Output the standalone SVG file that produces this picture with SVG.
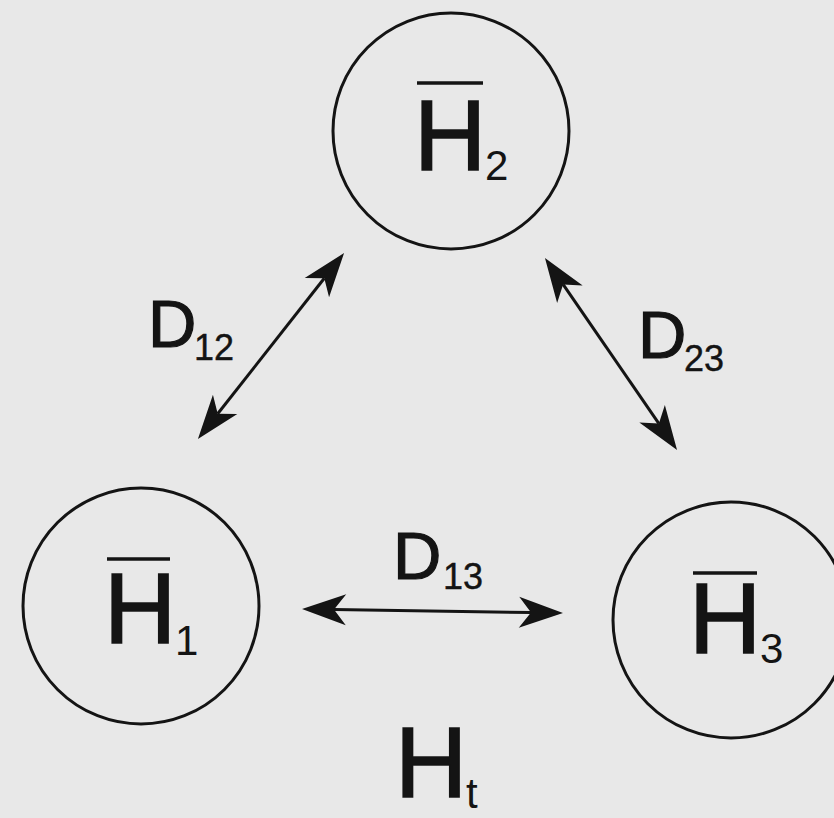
<svg xmlns="http://www.w3.org/2000/svg" width="834" height="818" viewBox="0 0 834 818">
  <style>
    .node { fill: none; stroke: #141414; stroke-width: 3; }
    .big { font-family: "Liberation Sans", Arial, sans-serif; font-size: 100px; fill: #141414; stroke: #141414; stroke-width: 1.6; }
    .sub { font-family: "Liberation Sans", Arial, sans-serif; font-size: 42px; fill: #141414; }
    .dl { font-family: "Liberation Sans", Arial, sans-serif; font-size: 67px; fill: #141414; stroke: #141414; stroke-width: 1.2; }
    .ds { font-family: "Liberation Sans", Arial, sans-serif; font-size: 36px; fill: #141414; stroke: #141414; stroke-width: 0.4; }
    .bar { stroke: #141414; stroke-width: 3.5; }
    .conn { stroke: #141414; stroke-width: 3; fill: none; marker-start: url(#head); marker-end: url(#head); }
  </style>
  <defs>
    <marker id="head" viewBox="-14 -17 48 34" markerWidth="48" markerHeight="34" refX="0" refY="0" orient="auto-start-reverse" markerUnits="userSpaceOnUse" overflow="visible">
      <path d="M32,0 L-12,-15.5 L0,0 L-12,15.5 Z" fill="#141414"/>
    </marker>
  </defs>
  <rect width="834" height="818" fill="#e8e8e8"/>

  <g id="connectors">
    <line class="conn" x1="217.7" y1="413.8" x2="324.3" y2="278.2"/>
    <line class="conn" x1="563.1" y1="284.4" x2="658.9" y2="423.6"/>
    <line class="conn" x1="334" y1="609.5" x2="531" y2="612.5"/>
  </g>

  <g id="node-H2">
    <circle class="node" cx="451" cy="131" r="118"/>
    <line class="bar" x1="417" y1="83" x2="483" y2="83"/>
    <text class="big" x="414" y="170">H</text>
    <text class="sub" x="485" y="180">2</text>
  </g>

  <g id="node-H1">
    <circle class="node" cx="141" cy="606" r="118"/>
    <line class="bar" x1="107" y1="559" x2="170" y2="559"/>
    <text class="big" x="104" y="643">H</text>
    <text class="sub" x="175" y="655">1</text>
  </g>

  <g id="node-H3">
    <circle class="node" cx="731" cy="620" r="118"/>
    <line class="bar" x1="693" y1="573" x2="757" y2="573"/>
    <text class="big" x="689" y="653">H</text>
    <text class="sub" x="760" y="663">3</text>
  </g>

  <g id="label-D12">
    <text class="dl" x="148" y="347">D</text>
    <text class="ds" x="194" y="360">12</text>
  </g>
  <g id="label-D23">
    <text class="dl" x="638" y="358">D</text>
    <text class="ds" x="684" y="371">23</text>
  </g>
  <g id="label-D13">
    <text class="dl" x="393" y="579">D</text>
    <text class="ds" x="443" y="589">13</text>
  </g>
  <g id="label-Ht">
    <text class="big" x="395" y="797">H</text>
    <text class="sub" x="466" y="808">t</text>
  </g>
</svg>
